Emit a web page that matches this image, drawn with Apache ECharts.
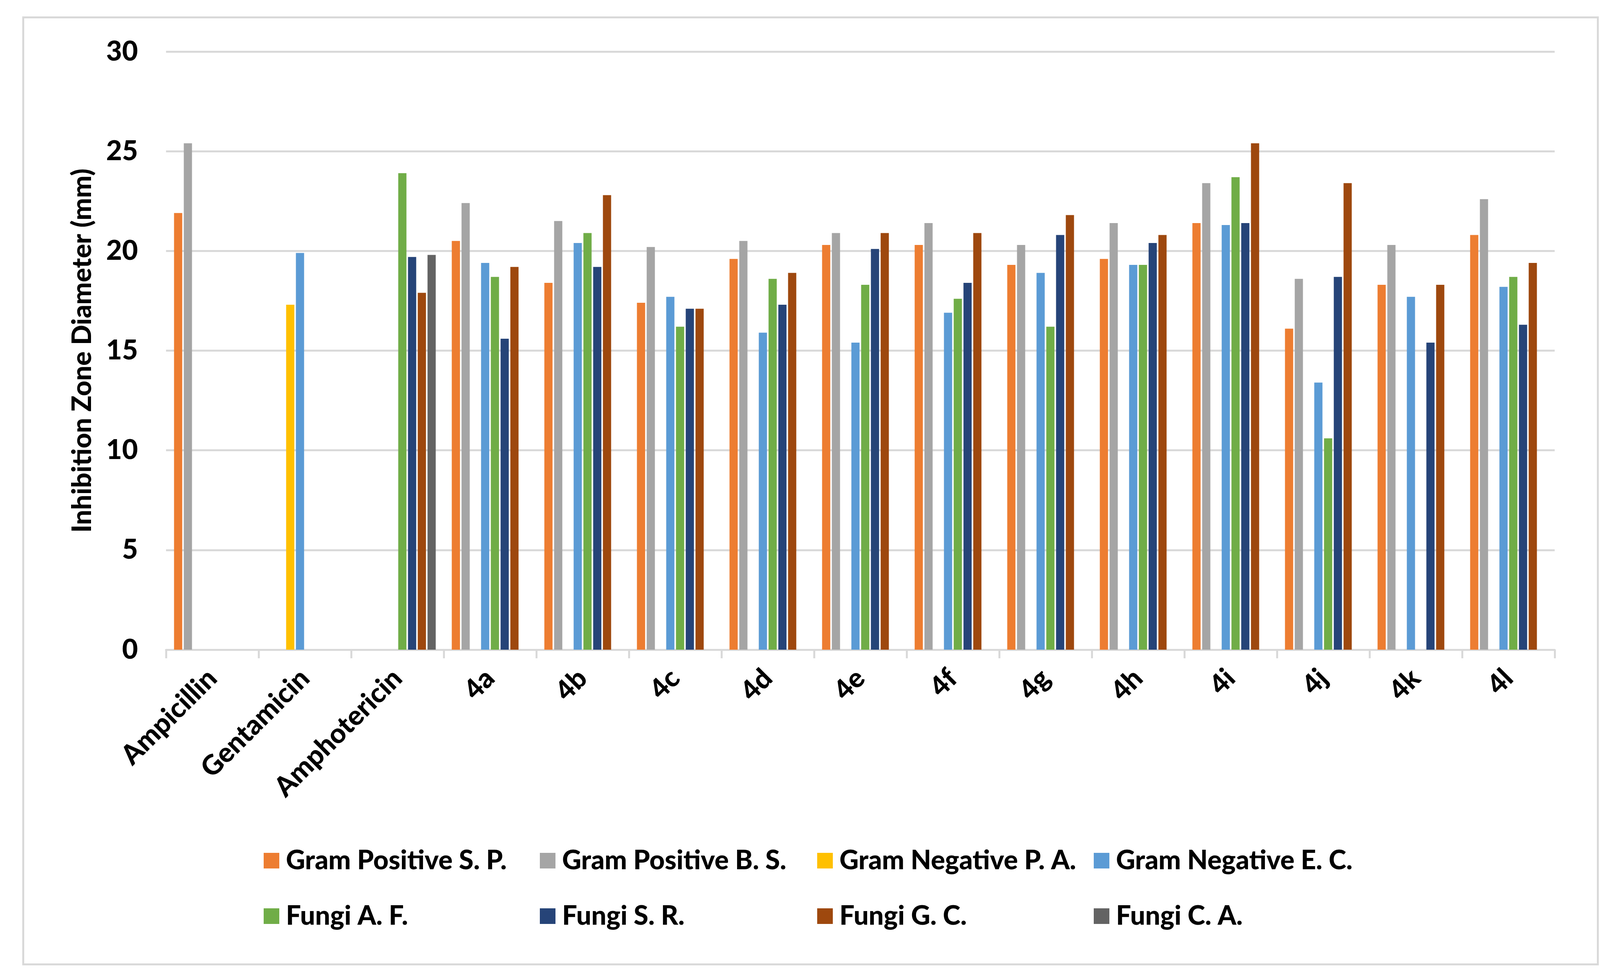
<!DOCTYPE html>
<html>
<head>
<meta charset="utf-8">
<script src="https://cdn.jsdelivr.net/npm/echarts@6/dist/echarts.min.js"></script>
<style>
html,body{margin:0;padding:0;background:#fff;}
#c{width:4136px;height:2488px;}
</style>
</head>
<body>
<div id="c"></div>
<script>
const categories = ['Ampicillin','Gentamicin','Amphotericin','4a','4b','4c','4d','4e','4f','4g','4h','4i','4j','4k','4l'];
const yTicks = [0, 5, 10, 15, 20, 25, 30];
const seriesNames = ['Gram Positive S. P.','Gram Positive B. S.','Gram Negative P. A.','Gram Negative E. C.','Fungi A. F.','Fungi S. R.','Fungi G. C.','Fungi C. A.'];
const gramPosSP = [21.9, null, null, 20.5, 18.4, 17.4, 19.6, 20.3, 20.3, 19.3, 19.6, 21.4, 16.1, 18.3, 20.8];
const gramPosBS = [25.4, null, null, 22.4, 21.5, 20.2, 20.5, 20.9, 21.4, 20.3, 21.4, 23.4, 18.6, 20.3, 22.6];
const gramNegPA = [null, 17.3, null, null, null, null, null, null, null, null, null, null, null, null, null];
const gramNegEC = [null, 19.9, null, 19.4, 20.4, 17.7, 15.9, 15.4, 16.9, 18.9, 19.3, 21.3, 13.4, 17.7, 18.2];
const fungiAF = [null, null, 23.9, 18.7, 20.9, 16.2, 18.6, 18.3, 17.6, 16.2, 19.3, 23.7, 10.6, null, 18.7];
const fungiSR = [null, null, 19.7, 15.6, 19.2, 17.1, 17.3, 20.1, 18.4, 20.8, 20.4, 21.4, 18.7, 15.4, 16.3];
const fungiGC = [null, null, 17.9, 19.2, 22.8, 17.1, 18.9, 20.9, 20.9, 21.8, 20.8, 25.4, 23.4, 18.3, 19.4];
const fungiCA = [null, null, 19.8, null, null, null, null, null, null, null, null, null, null, null, null];
const colors = ['#ED7D31','#A5A5A5','#FFC000','#5B9BD5','#70AD47','#264478','#9E480E','#636363'];

const allData = [gramPosSP, gramPosBS, gramNegPA, gramNegEC, fungiAF, fungiSR, fungiGC, fungiCA];
const FONT = 'Lato, "Open Sans", sans-serif';
const WEIGHT = 900;

const chart = echarts.init(document.getElementById('c'), null, {renderer: 'canvas'});
const legendCols = [675, 1382, 2092, 2800];
const legendRows = [2163, 2305];
const legends = seriesNames.map((n, i) => ({
  data: [n],
  left: legendCols[i % 4], top: legendRows[Math.floor(i / 4)],
  padding: 0,
  itemWidth: 40, itemHeight: 40, icon: 'rect',
  textStyle: {fontSize: 68, fontWeight: WEIGHT, color: '#000', fontFamily: FONT, lineHeight: 80, padding: [0, 0, 0, 12]}
}));
const option = {
  backgroundColor: '#ffffff',
  animation: false,
  color: colors,
  graphic: [{
    type: 'rect', left: 57, top: 42,
    shape: {width: 4031, height: 2424},
    style: {fill: 'none', stroke: '#d9d9d9', lineWidth: 5},
    silent: true
  }],
  legend: legends,
  grid: {left: 425, right: 156, top: 132, bottom: 825, containLabel: false},
  xAxis: {
    type: 'category',
    data: categories,
    boundaryGap: true,
    axisLine: {show: true, lineStyle: {color: '#d9d9d9', width: 5}},
    axisTick: {show: true, length: 22, lineStyle: {color: '#d9d9d9', width: 5}},
    axisLabel: {rotate: 45, interval: 0, margin: 62, fontSize: 70, fontWeight: WEIGHT, color: '#000', fontFamily: FONT},
    splitLine: {show: false}
  },
  yAxis: {
    type: 'value',
    min: yTicks[0], max: yTicks[yTicks.length - 1], interval: 5,
    name: 'Inhibition Zone Diameter (mm)',
    nameLocation: 'middle', nameGap: 180, nameRotate: 90,
    nameTextStyle: {fontSize: 68, fontWeight: WEIGHT, color: '#000', fontFamily: FONT},
    axisLine: {show: false},
    axisTick: {show: false},
    axisLabel: {margin: 72, fontSize: 70, fontWeight: WEIGHT, color: '#000', fontFamily: FONT},
    splitLine: {show: true, lineStyle: {color: '#d9d9d9', width: 5}}
  },
  series: seriesNames.map((n, i) => ({
    name: n, type: 'bar', data: allData[i],
    barWidth: 21, barGap: '19%',
    itemStyle: {color: colors[i]}
  }))
};
chart.setOption(option);
</script>
</body>
</html>
